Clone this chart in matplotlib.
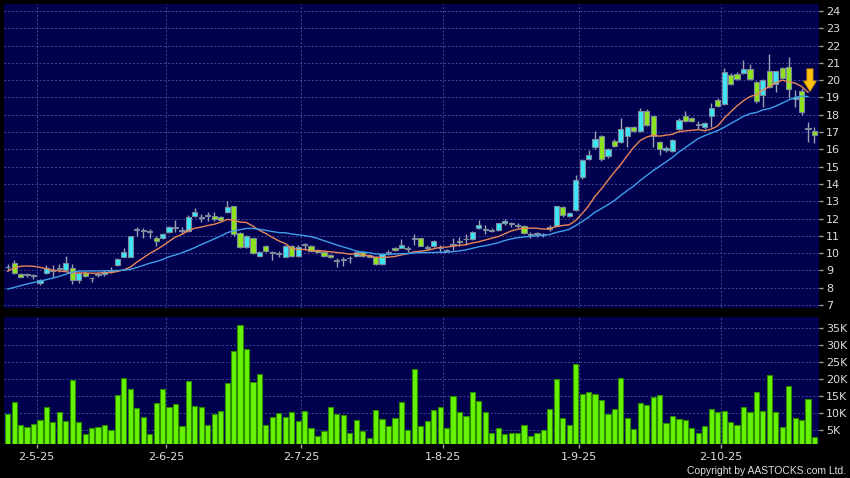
import matplotlib.pyplot as plt
from matplotlib.patches import FancyArrow

# daily candles (oldest first), prices in HKD
opens = [9.18, 9.45, 8.8, 8.73, 8.7, 8.3, 8.85, 9.0, 9.1, 9.0,
         9.15, 8.45, 8.85, 8.55, 8.76, 8.78, 8.98, 9.3, 9.8, 9.8,
         11.34, 11.3, 11.3, 10.85, 10.85, 11.2, 11.47, 11.3, 11.3, 12.15,
         12.05, 12.15, 12.15, 12.1, 12.35, 12.7, 11.15, 10.35, 10.85, 9.85,
         10.4, 10.0, 9.95, 9.8, 10.4, 9.85, 10.47, 10.4, 10.2, 10.05,
         9.9, 9.55, 9.6, 9.7, 9.85, 10.05, 9.9, 9.8, 9.35, 10.03,
         10.3, 10.32, 10.25, 10.82, 10.85, 10.3, 10.4, 10.27, 10.2, 10.5,
         10.66, 10.8, 10.8, 11.45, 11.34, 11.35, 11.35, 11.75, 11.68, 11.58,
         11.55, 11.06, 11.1, 11.08, 11.38, 11.55, 12.65, 12.15, 12.5, 14.4,
         15.45, 16.15, 16.75, 15.6, 16.5, 16.4, 16.75, 17.3, 17.05, 18.2,
         17.9, 16.45, 15.98, 15.9, 17.15, 17.9, 17.8, 17.41, 17.3, 17.95,
         18.85, 18.6, 20.3, 20.35, 20.4, 20.65, 19.9, 19.15, 20.5, 19.8,
         20.7, 20.75, 18.9, 19.35, 17.2, 17.05]
highs = [9.4, 9.6, 8.85, 8.85, 8.8, 8.5, 9.3, 9.3, 9.35, 9.85,
         9.4, 8.9, 8.95, 8.65, 8.9, 9.0, 9.2, 9.7, 10.3, 11.0,
         11.5, 11.45, 11.4, 11.0, 11.15, 11.55, 11.9, 11.5, 12.2, 12.6,
         12.25, 12.4, 12.4, 12.15, 13.0, 12.75, 11.2, 11.05, 10.9, 10.1,
         10.45, 10.15, 10.15, 10.45, 10.45, 10.5, 10.6, 10.45, 10.25, 10.1,
         9.95, 9.7, 9.75, 9.85, 10.1, 10.1, 9.95, 9.85, 10.0, 10.2,
         10.35, 10.8, 10.4, 11.1, 10.9, 10.45, 10.75, 10.45, 10.25, 10.85,
         10.95, 11.1, 11.3, 11.9, 11.6, 11.45, 11.75, 12.0, 11.8, 11.75,
         11.6, 11.2, 11.2, 11.15, 11.6, 12.75, 12.7, 12.35, 14.5, 15.45,
         15.95, 17.05, 16.85, 16.05, 16.6, 17.8, 17.35, 17.35, 18.4, 18.35,
         17.95, 16.5, 16.2, 16.6, 17.8, 18.2, 17.85, 17.65, 17.6, 18.65,
         18.95, 20.7, 20.4, 20.45, 21.15, 20.95, 19.95, 20.05, 21.5, 20.55,
         20.75, 21.35, 19.45, 19.55, 17.6, 17.3]
lows = [9.0, 8.8, 8.6, 8.6, 8.5, 8.15, 8.8, 8.6, 8.9, 8.95,
        8.2, 8.3, 8.6, 8.35, 8.6, 8.7, 8.85, 9.25, 9.75, 9.75,
        11.0, 10.9, 10.85, 10.4, 10.8, 11.15, 11.25, 11.1, 11.25, 12.1,
        11.8, 11.85, 11.85, 11.85, 12.3, 11.0, 10.3, 10.3, 9.95, 9.75,
        10.05, 9.6, 9.75, 9.75, 9.8, 9.8, 10.2, 10.1, 10.0, 9.8,
        9.7, 9.2, 9.25, 9.45, 9.8, 9.8, 9.75, 9.3, 9.3, 9.9,
        10.15, 10.3, 10.05, 10.5, 10.4, 10.2, 10.35, 10.05, 10.05, 10.2,
        10.4, 10.5, 10.75, 11.4, 11.1, 11.2, 11.3, 11.6, 11.5, 11.45,
        11.1, 10.9, 10.95, 10.95, 11.3, 11.5, 12.1, 12.1, 12.45, 14.3,
        15.4, 16.0, 15.35, 15.5, 16.15, 16.35, 16.15, 17.0, 17.0, 17.35,
        16.15, 15.7, 15.85, 15.85, 17.1, 17.6, 17.6, 17.15, 17.2, 17.3,
        18.45, 18.55, 19.7, 20.0, 20.35, 20.0, 18.65, 18.45, 19.55, 19.3,
        20.05, 18.95, 18.45, 18.0, 16.45, 16.35]
closes = [9.2, 8.85, 8.65, 8.75, 8.7, 8.45, 9.15, 8.95, 9.1, 9.45,
          8.45, 8.85, 8.7, 8.55, 8.78, 8.92, 8.98, 9.65, 10.05, 11.0,
          11.34, 11.28, 11.2, 10.7, 11.1, 11.5, 11.45, 11.3, 12.1, 12.4,
          12.05, 12.15, 11.95, 11.9, 12.65, 11.1, 10.35, 11.0, 10.0, 10.05,
          10.1, 10.0, 9.95, 10.4, 9.85, 10.35, 10.47, 10.15, 10.05, 9.85,
          9.75, 9.55, 9.62, 9.72, 10.05, 9.85, 9.8, 9.35, 9.95, 10.03,
          10.2, 10.45, 10.25, 10.82, 10.42, 10.3, 10.7, 10.27, 10.1, 10.52,
          10.68, 10.8, 11.25, 11.6, 11.34, 11.3, 11.72, 11.88, 11.68, 11.57,
          11.15, 11.05, 11.12, 11.08, 11.52, 12.7, 12.2, 12.3, 14.25, 15.4,
          15.7, 16.6, 15.45, 16.0, 16.2, 17.2, 17.3, 17.05, 18.2, 17.4,
          16.75, 16.0, 16.05, 16.55, 17.7, 17.65, 17.65, 17.41, 17.55, 18.4,
          18.5, 20.45, 19.75, 20.05, 20.65, 20.05, 18.8, 20.0, 19.6, 20.5,
          20.1, 19.5, 19.05, 18.15, 17.25, 16.85]
volumes_k = [9.6, 13.3, 6.5, 5.8, 6.7, 8.0, 11.9, 7.3, 10.3, 7.8,
             19.8, 7.4, 3.8, 5.5, 6.0, 6.5, 5.0, 15.3, 20.3, 17.0,
             11.4, 8.9, 3.8, 12.9, 17.1, 11.9, 12.8, 6.2, 19.5, 12.1,
             11.8, 6.4, 9.7, 10.6, 19.0, 28.4, 36.0, 28.9, 19.2, 21.4,
             6.4, 8.9, 9.9, 8.8, 10.3, 7.8, 10.6, 5.7, 3.2, 4.8,
             11.8, 9.8, 9.3, 4.2, 8.0, 4.8, 2.7, 10.8, 8.3, 6.3,
             8.7, 13.2, 5.0, 22.9, 6.2, 7.7, 10.9, 11.7, 5.5, 15.0,
             10.4, 9.2, 16.2, 13.7, 10.3, 4.2, 5.5, 3.8, 4.2, 4.1,
             6.4, 3.2, 4.0, 4.9, 11.2, 20.1, 8.5, 6.5, 24.5, 15.6,
             16.1, 15.5, 13.9, 9.6, 11.3, 20.3, 8.5, 5.2, 12.9, 12.3,
             14.8, 15.3, 7.0, 9.0, 8.4, 8.1, 5.5, 4.0, 6.2, 11.1,
             10.3, 10.5, 7.3, 6.5, 11.7, 10.2, 16.1, 10.7, 21.3, 10.3,
             5.9, 17.9, 8.6, 8.0, 14.1, 3.0]

# moving averages as drawn (no value on the last session)
ma10 = [8.95, 9.15, 9.24, 9.26, 9.24, 9.18, 9.1, 9.02, 8.97, 8.93,
        8.85, 8.85, 8.86, 8.84, 8.84, 8.89, 8.87, 8.94, 9.04, 9.19,
        9.48, 9.73, 9.98, 10.19, 10.42, 10.68, 10.93, 11.09, 11.30, 11.44,
        11.51, 11.60, 11.67, 11.79, 11.95, 11.91, 11.80, 11.77, 11.56, 11.32,
        11.13, 10.91, 10.71, 10.56, 10.28, 10.21, 10.22, 10.13, 10.14, 10.12,
        10.08, 10.04, 10.00, 9.94, 9.96, 9.91, 9.84, 9.76, 9.75, 9.77,
        9.81, 9.90, 9.97, 10.08, 10.11, 10.16, 10.25, 10.34, 10.35, 10.40,
        10.45, 10.49, 10.59, 10.66, 10.76, 10.86, 10.96, 11.12, 11.28, 11.38,
        11.43, 11.45, 11.44, 11.39, 11.41, 11.55, 11.60, 11.64, 11.89, 12.28,
        12.73, 13.29, 13.72, 14.21, 14.68, 15.13, 15.64, 16.12, 16.51, 16.71,
        16.82, 16.76, 16.82, 16.87, 17.02, 17.07, 17.10, 17.14, 17.07, 17.17,
        17.35, 17.79, 18.16, 18.51, 18.81, 19.05, 19.16, 19.42, 19.63, 19.84,
        20.00, 19.90, 19.83, 19.64, 19.30]
ma20 = [7.92, 8.02, 8.12, 8.22, 8.3, 8.38, 8.47, 8.56, 8.66, 8.78,
        8.9, 8.96, 8.97, 8.97, 8.97, 8.98, 8.99, 9.0, 9.02, 9.06,
        9.17, 9.29, 9.42, 9.51, 9.63, 9.79, 9.90, 10.02, 10.17, 10.32,
        10.50, 10.66, 10.82, 10.99, 11.18, 11.29, 11.36, 11.43, 11.43, 11.38,
        11.32, 11.25, 11.19, 11.18, 11.11, 11.06, 11.01, 10.95, 10.85, 10.72,
        10.60, 10.47, 10.36, 10.25, 10.12, 10.06, 10.03, 9.95, 9.94, 9.94,
        9.95, 9.97, 9.98, 10.01, 10.03, 10.03, 10.04, 10.05, 10.05, 10.09,
        10.13, 10.19, 10.28, 10.37, 10.43, 10.51, 10.60, 10.73, 10.82, 10.89,
        10.94, 10.97, 11.01, 11.03, 11.08, 11.20, 11.28, 11.38, 11.59, 11.83,
        12.08, 12.37, 12.58, 12.80, 13.04, 13.34, 13.62, 13.88, 14.20, 14.49,
        14.77, 15.02, 15.27, 15.54, 15.85, 16.10, 16.37, 16.63, 16.79, 16.94,
        17.08, 17.27, 17.49, 17.69, 17.91, 18.06, 18.13, 18.28, 18.35, 18.50,
        18.67, 18.85, 19.00, 19.08, 19.05]

month_pos = [4.5, 24.5, 45.5, 67.5, 88.5, 110.5]
month_labels = ['2-5-25', '2-6-25', '2-7-25', '1-8-25', '1-9-25', '2-10-25']
price_ticks = list(range(7, 25))
vol_ticks = [5, 10, 15, 20, 25, 30, 35]

# signal arrow on the latest sessions
arrow_x = 124.3
arrow_top = 20.65
arrow_tip = 19.35

bg = '#00004e'
up_col = '#3ce6f6'
down_col = '#8ee41c'
flat_col = '#a8b0c0'
edge_col = '#7d8a9c'
grid_col = '#3e4c92'
txt_col = '#dcdcdc'

fig = plt.figure(figsize=(8.5, 4.78), dpi=100, facecolor='black')
ax = fig.add_axes([4 / 850, 1 - 308 / 478, 815 / 850, 304 / 478], facecolor=bg)
axv = fig.add_axes([4 / 850, 1 - 444 / 478, 815 / 850, 127 / 478], facecolor=bg, sharex=ax)

xs = list(range(len(closes)))
body_bottom = [min(o, c) for o, c in zip(opens, closes)]
body_h = [max(abs(c - o), 0.04) for o, c in zip(opens, closes)]
colors = []
for o, c in zip(opens, closes):
    if abs(c - o) < 0.03:
        colors.append(flat_col)
    elif c > o:
        colors.append(up_col)
    else:
        colors.append(down_col)

ax.vlines(xs, lows, highs, color='#9aa2b4', lw=1, zorder=2)
ax.bar(xs, body_h, bottom=body_bottom, width=0.8, color=colors,
       edgecolor=edge_col, linewidth=0.8, zorder=3)
ax.plot(xs[:len(ma10)], ma10, color='#e8865a', lw=1, zorder=4)
ax.plot(xs[:len(ma20)], ma20, color='#3f9fea', lw=1, zorder=4)
ax.add_patch(FancyArrow(arrow_x, arrow_top, 0, arrow_tip - arrow_top, width=0.95,
                        head_width=2.0, head_length=0.6, length_includes_head=True,
                        facecolor='#ffc010', edgecolor='#d09000', lw=0.6, zorder=5))

axv.bar(xs, volumes_k, width=0.8, color='#66f200', edgecolor='#2e8a00',
        linewidth=0.8, zorder=3)

ax.set_xlim(-0.57, 125.7)
ax.set_ylim(6.83, 24.4)
axv.set_ylim(0.9, 38.3)

for a in (ax, axv):
    for s in a.spines.values():
        s.set_visible(False)
    a.yaxis.tick_right()
    a.grid(True, color=grid_col, ls=(0, (2, 2)), lw=0.7, zorder=0)
    a.set_axisbelow(True)
    a.tick_params(axis='y', colors='#a0a0a0', labelcolor=txt_col, length=3,
                  width=1, pad=2, labelsize=8)

ax.set_xticks(month_pos)
ax.set_yticks(price_ticks)
ax.tick_params(axis='x', length=0, labelbottom=False)
axv.set_xticks(month_pos, month_labels)
axv.tick_params(axis='x', colors='#a0a0a0', labelcolor=txt_col, length=3,
                width=1, pad=3, labelsize=8)
axv.set_yticks(vol_ticks, [f'{v}K' for v in vol_ticks])

fig.text(846 / 850, 2 / 478, 'Copyright by AASTOCKS.com Ltd.', color=txt_col,
         fontsize=7.5, family='Liberation Sans', ha='right', va='bottom')

fig.savefig('out.png', dpi=100, facecolor='black')
